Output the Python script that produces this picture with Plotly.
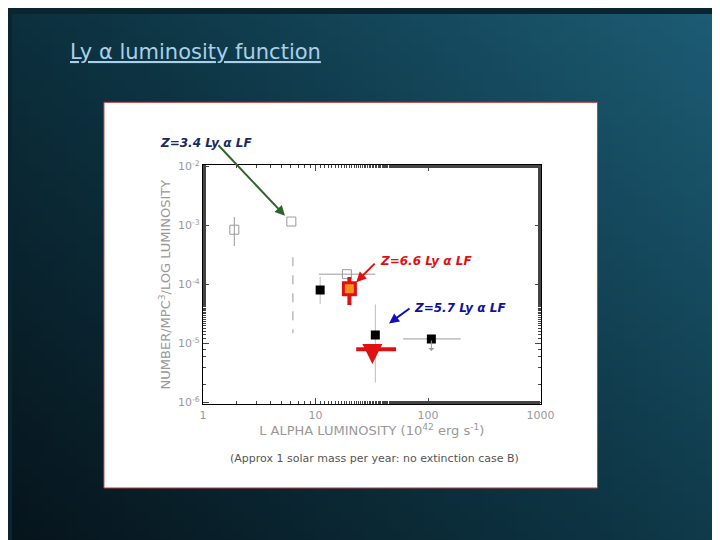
import numpy as np
import plotly.graph_objects as go

# open squares (lower-z points)
open_x = [1.9, 6.1, 19]
open_y = [8.5e-4, 1.17e-3, 1.5e-4]
open_ylo = [4.5e-4, 1.17e-3, 1.5e-4]
open_yhi = [1.4e-3, 1.17e-3, 1.5e-4]
# filled squares (z=5.7)
fill_x = [11, 34, 107]
fill_y = [8.1e-5, 1.4e-5, 1.2e-5]
fill_ylo = [4.7e-5, 2.2e-6, 1.2e-5]
fill_yhi = [1.35e-4, 4.6e-5, 1.2e-5]
# z=6.6 point and upper limit
red_x, red_y, red_ylo, red_yhi = [20], [8.5e-5], [4.5e-5], [1.35e-4]
lim_x = [23, 52]
lim_y = 8e-6
dash_x = 6.3
dash_y = [2.9e-4, 1.5e-5]

fig = go.Figure()

# slide background gradient (on the full-page x/y axes, drawn first)
gx = np.linspace(0, 1, 60)
gy = np.linspace(0, 1, 60)
gz = np.add.outer(gy * 0.6, gx * 0.8)
fig.add_trace(go.Heatmap(x=gx, y=gy, z=gz, showscale=False,
                         colorscale=[[0, "#06141b"], [0.5, "#0d3443"], [1, "#1c5c74"]],
                         hoverinfo="skip"))
fig.add_trace(go.Scatter(x=[0.131, 0.834, 0.834, 0.131, 0.131], y=[0.104, 0.104, 0.833, 0.833, 0.104],
                         mode="lines", fill="toself", fillcolor="white",
                         line=dict(color="#c04040", width=1), hoverinfo="skip"))

grey = "#9a9a9a"
d = dict(xaxis="x2", yaxis="y2")
fig.add_trace(go.Scatter(x=open_x, y=open_y, mode="markers", **d,
                         marker=dict(symbol="square-open", size=9, color=grey, line=dict(width=1)),
                         error_y=dict(type="data", symmetric=False,
                                      array=[h - v for h, v in zip(open_yhi, open_y)],
                                      arrayminus=[v - l for l, v in zip(open_ylo, open_y)],
                                      color=grey, thickness=1, width=0),
                         error_x=dict(type="data", symmetric=False, array=[0, 0, 15], arrayminus=[0, 0, 8.3],
                                      color=grey, thickness=1, width=0)))
fig.add_trace(go.Scatter(x=[dash_x, dash_x], y=dash_y, mode="lines", **d,
                         line=dict(color=grey, width=1, dash="dash")))
fig.add_trace(go.Scatter(x=red_x, y=red_y, mode="markers", **d,
                         marker=dict(symbol="square", size=12, color="#f39020", line=dict(color="#e01010", width=3)),
                         error_y=dict(type="data", symmetric=False, array=[red_yhi[0] - red_y[0]],
                                      arrayminus=[red_y[0] - red_ylo[0]], color="#e01010", thickness=4, width=0)))
fig.add_trace(go.Scatter(x=fill_x, y=fill_y, mode="markers", **d,
                         marker=dict(symbol="square", size=9, color="black"),
                         error_y=dict(type="data", symmetric=False,
                                      array=[h - v for h, v in zip(fill_yhi, fill_y)],
                                      arrayminus=[v - l for l, v in zip(fill_ylo, fill_y)],
                                      color="#bbbbbb", thickness=1, width=0),
                         error_x=dict(type="data", symmetric=False, array=[0, 0, 88], arrayminus=[0, 0, 47],
                                      color=grey, thickness=1, width=0)))
fig.add_trace(go.Scatter(x=lim_x, y=[lim_y, lim_y], mode="lines", **d, line=dict(color="#e01010", width=4)))

fig.add_annotation(x=np.log10(32), y=np.log10(4.5e-6), ax=np.log10(32), ay=np.log10(lim_y),
                   xref="x2", yref="y2", axref="x2", ayref="y2", showarrow=True, arrowhead=2,
                   arrowsize=1, arrowwidth=4, arrowcolor="#e01010", text="")
fig.add_annotation(x=np.log10(107), y=np.log10(7.5e-6), ax=np.log10(107), ay=np.log10(1.2e-5),
                   xref="x2", yref="y2", axref="x2", ayref="y2", showarrow=True, arrowhead=1,
                   arrowwidth=1, arrowcolor=grey, text="")

labfont = dict(family="DejaVu Sans", size=12)
fig.add_annotation(x=150 / 720, y=1 - 122 / 540, xref="paper", yref="paper", xanchor="left", showarrow=False,
                   text="<b><i>Z=3.4 Ly α LF</i></b>", font=dict(color="#1a2a60", **labfont))
fig.add_annotation(x=280 / 720, y=1 - 206 / 540, xref="paper", yref="paper", ax=-68, ay=-72,
                   showarrow=True, arrowhead=2, arrowwidth=2, arrowcolor="#2e6428", text="")
fig.add_annotation(x=375 / 720, y=1 - 252 / 540, xref="paper", yref="paper", xanchor="left", showarrow=False,
                   text="<b><i>Z=6.6 Ly α LF</i></b>", font=dict(color="#e01010", **labfont))
fig.add_annotation(x=410 / 720, y=1 - 300 / 540, xref="paper", yref="paper", xanchor="left", showarrow=False,
                   text="<b><i>Z=5.7 Ly α LF</i></b>", font=dict(color="#1010a0", **labfont))
fig.add_annotation(x=372 / 720, y=1 - 462 / 540, xref="paper", yref="paper", showarrow=False,
                   text="(Approx 1 solar mass per year: no extinction case B)",
                   font=dict(family="DejaVu Sans", size=11, color="#555555"))
fig.add_annotation(x=57 / 720, y=1 - 25 / 540, xref="paper", yref="paper", xanchor="left", showarrow=False,
                   text="<u>Ly α luminosity function</u>",
                   font=dict(family="DejaVu Sans", size=21, color="#a8d0e8"))

fig.update_layout(
    width=720, height=540, margin=dict(l=0, r=0, t=0, b=0), showlegend=False,
    paper_bgcolor="#0a2430", plot_bgcolor="rgba(0,0,0,0)",
    font=dict(family="DejaVu Sans", color="#999999", size=11),
    xaxis=dict(domain=[0, 1], range=[0, 1], visible=False, fixedrange=True),
    yaxis=dict(domain=[0, 1], range=[0, 1], visible=False, fixedrange=True),
    xaxis2=dict(type="log", range=[0, 3], domain=[0.272, 0.753], showgrid=False, zeroline=False, anchor="y2",
                showline=True, linecolor="black", mirror="ticks", ticks="inside", ticklen=6,
                tickvals=[1, 10, 100, 1000], ticktext=["1", "10", "100", "1000"],
                minor=dict(ticks="inside", ticklen=3, showgrid=False),
                title=dict(text="L ALPHA LUMINOSITY (10<sup>42</sup> erg s<sup>-1</sup>)", standoff=4)),
    yaxis2=dict(type="log", range=[-6.03, -1.97], domain=[0.262, 0.715], showgrid=False, zeroline=False, anchor="x2",
                showline=True, linecolor="black", mirror="ticks", ticks="inside", ticklen=6,
                tickvals=[1e-6, 1e-5, 1e-4, 1e-3, 1e-2],
                ticktext=["10<sup>-6</sup>", "10<sup>-5</sup>", "10<sup>-4</sup>", "10<sup>-3</sup>", "10<sup>-2</sup>"],
                minor=dict(ticks="inside", ticklen=3, showgrid=False),
                title=dict(text="NUMBER/MPC<sup>3</sup>/LOG LUMINOSITY", standoff=4)),
)
# pointer arrows for the z=6.6 and z=5.7 labels, placed relative to data points
fig.add_annotation(x=np.log10(23), y=np.log10(1.1e-4), xref="x2", yref="y2", ax=20, ay=-20,
                   showarrow=True, arrowhead=2, arrowwidth=2, arrowcolor="#e01010", text="")
fig.add_annotation(x=np.log10(45), y=np.log10(2.2e-5), xref="x2", yref="y2", ax=22, ay=-16,
                   showarrow=True, arrowhead=2, arrowwidth=2, arrowcolor="#1010c0", text="")
fig.write_html("out.html")
